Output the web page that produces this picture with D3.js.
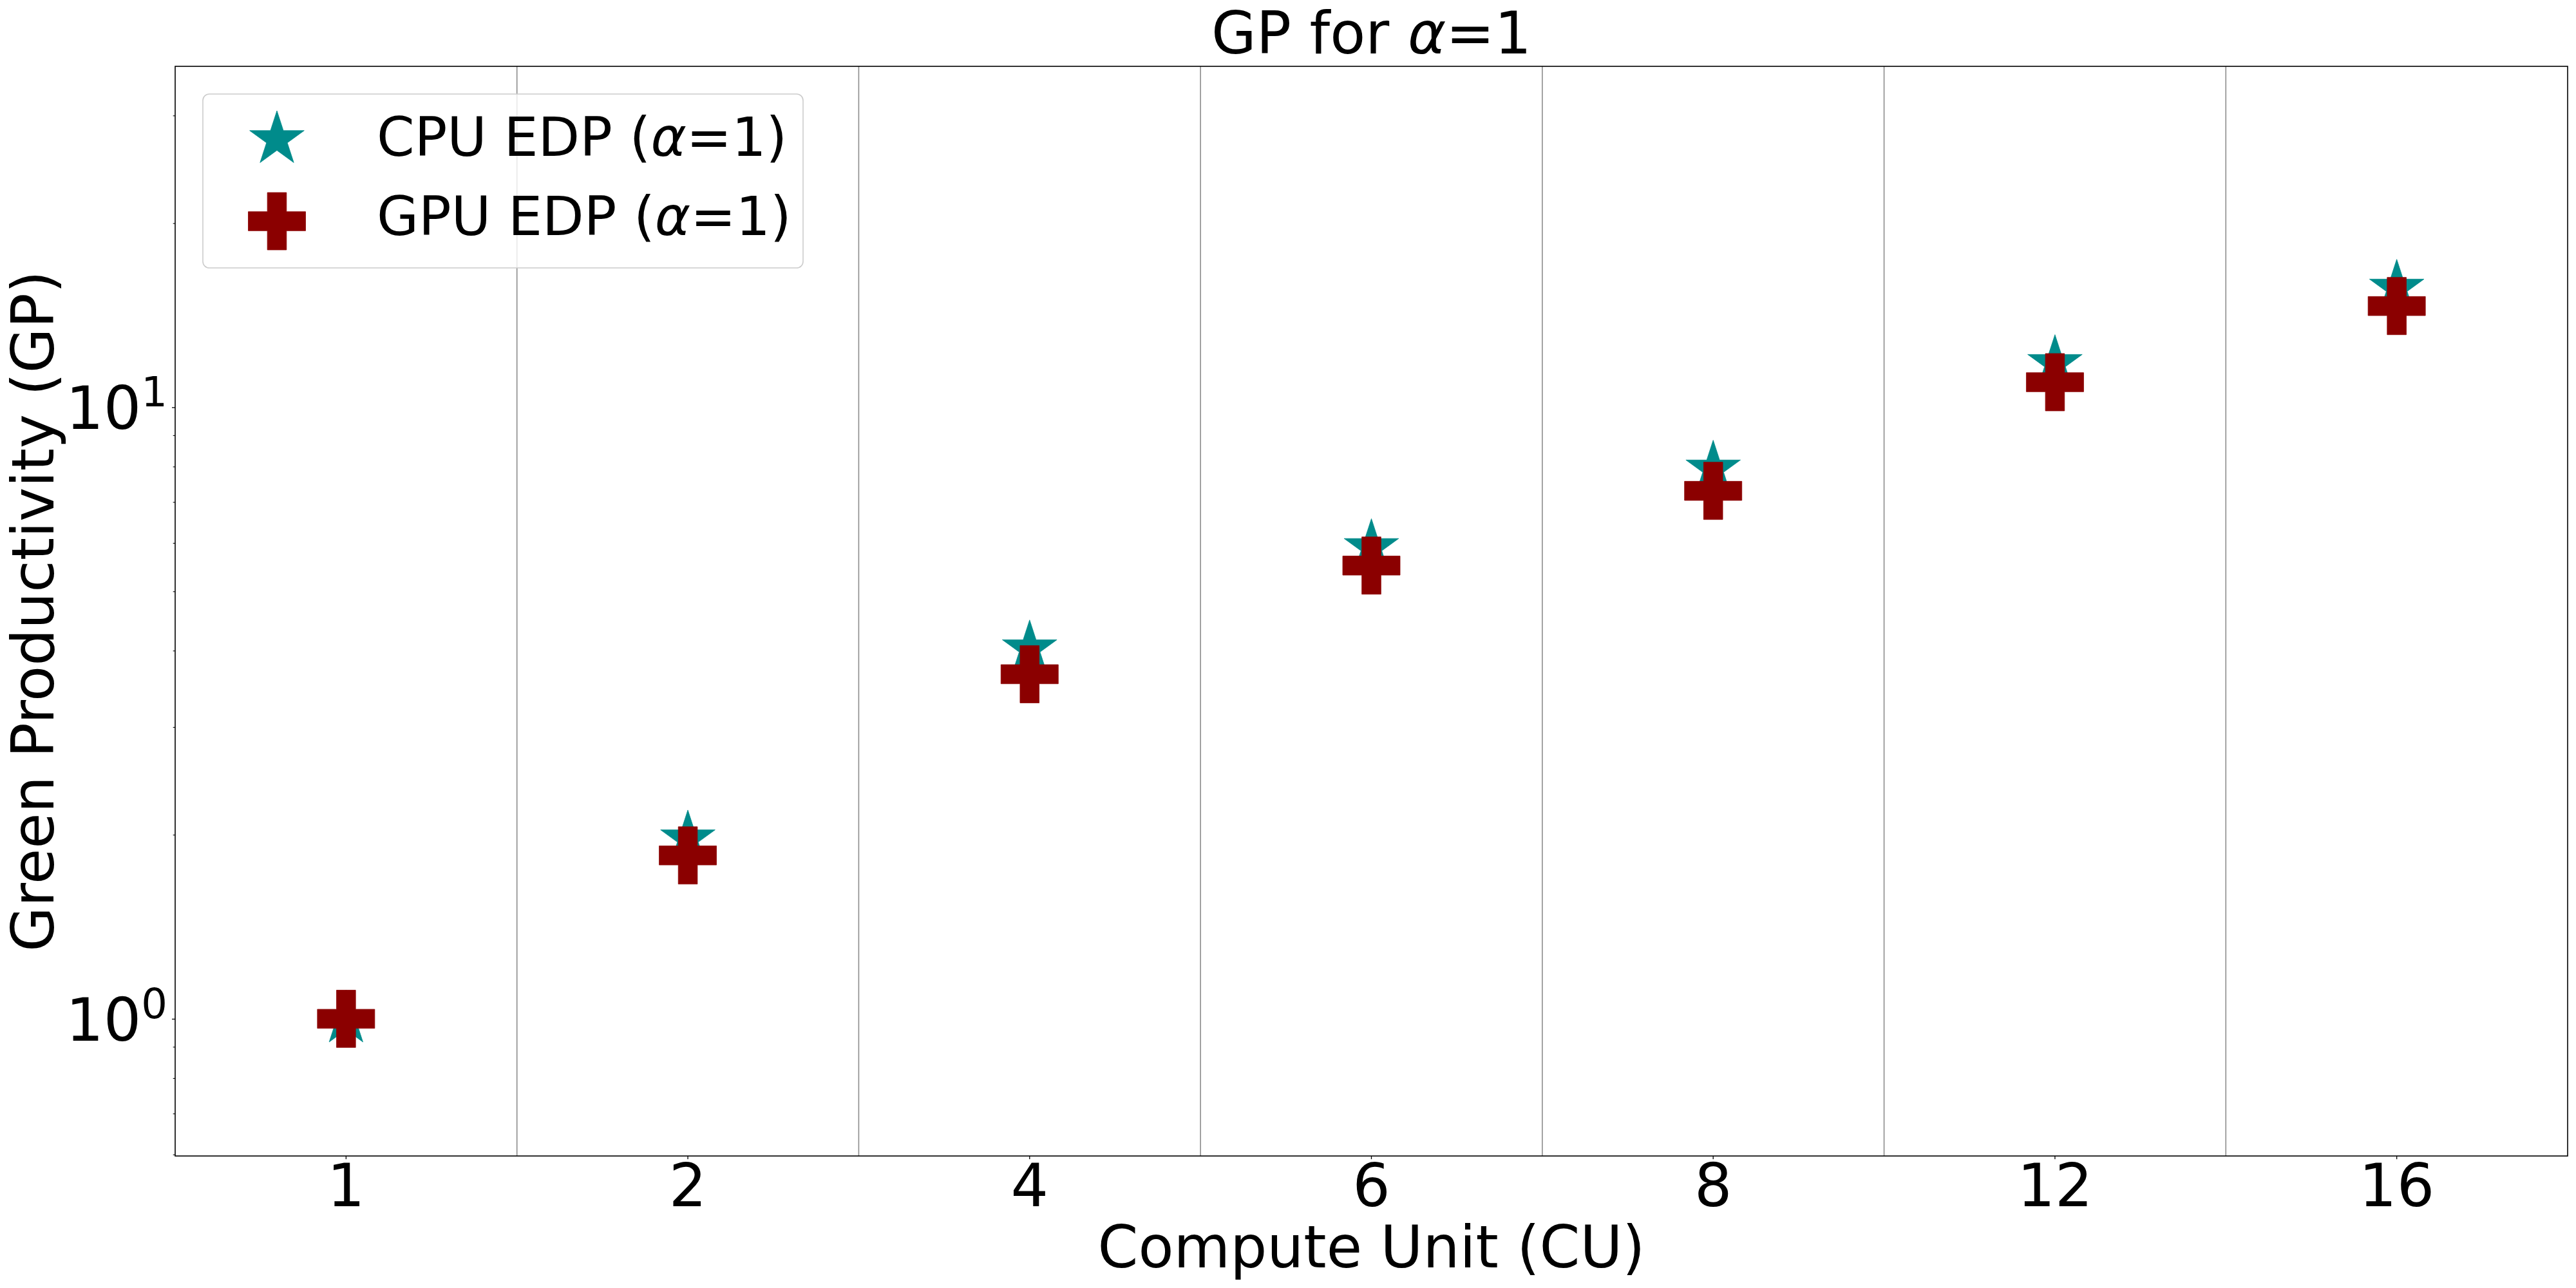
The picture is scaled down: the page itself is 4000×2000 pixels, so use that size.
<!DOCTYPE html>
<html>
<head>
<meta charset="utf-8">
<script src="https://cdn.jsdelivr.net/npm/d3@7"></script>
<style>
  html, body { margin: 0; padding: 0; background: #fff; }
  svg { display: block; }
  text { font-family: "DejaVu Sans", sans-serif; fill: #000; }
</style>
</head>
<body>
<script>
// ---- data ----
const categories = ["1", "2", "4", "6", "8", "12", "16"];
const cpuEDP = [1.0, 1.97, 4.03, 5.90, 7.93, 11.80, 15.67];
const gpuEDP = [1.0, 1.85, 3.66, 5.51, 7.30, 10.99, 14.64];
const seriesNames = ["CPU EDP", "GPU EDP"];
const yMajorTicks = [1, 10];
const yMajorExponents = ["0", "1"];
const yMinorTicks = [0.6, 0.7, 0.8, 0.9, 2, 3, 4, 5, 6, 7, 8, 9, 20, 30];
const yDomain = [0.5966, 36.1];

(function () {
// ---- layout ----
const W = 4000, H = 2000;
const pL = 272, pR = 3987, pT = 103, pB = 1795;
const markerSize = 89;

const svg = d3.select("body").append("svg").attr("width", W).attr("height", H);

const x = d3.scaleBand().domain(categories).range([pL, pR]).paddingInner(0).paddingOuter(0);
const y = d3.scaleLog().domain(yDomain).range([pB, pT]);
const cx = c => x(c) + x.bandwidth() / 2;

function starPath(R) {
  const r = R * 0.381966;
  const pts = [];
  for (let i = 0; i < 10; i++) {
    const a = -Math.PI / 2 + i * Math.PI / 5;
    const rr = i % 2 === 0 ? R : r;
    pts.push([rr * Math.cos(a), rr * Math.sin(a)]);
  }
  return "M" + pts.map(p => p[0].toFixed(2) + "," + p[1].toFixed(2)).join("L") + "Z";
}
function plusPath(s) {
  const h = s / 2, a = s / 6;
  const pts = [[-a,-h],[a,-h],[a,-a],[h,-a],[h,a],[a,a],[a,h],[-a,h],[-a,a],[-h,a],[-h,-a],[-a,-a]];
  return "M" + pts.map(p => p[0].toFixed(2) + "," + p[1].toFixed(2)).join("L") + "Z";
}
const STAR = starPath(markerSize / 2);
const PLUS = plusPath(markerSize);
const cpuColor = "#008b8b", gpuColor = "#8b0000";

// vertical separators between categories
svg.append("g").selectAll("line").data(categories.slice(1)).join("line")
  .attr("x1", d => x(d)).attr("x2", d => x(d))
  .attr("y1", pT).attr("y2", pB)
  .attr("stroke", "#8c8c8c").attr("stroke-width", 1.6);

// axes
const xAxis = d3.axisBottom(x).tickSize(5).tickPadding(0).tickFormat(() => "");
const gx = svg.append("g").attr("transform", `translate(0,${pB})`).call(xAxis);
gx.select(".domain").remove();
gx.selectAll(".tick line").attr("stroke", "#000").attr("stroke-width", 1.3);
gx.selectAll(".tick").append("text")
  .attr("y", 78).attr("text-anchor", "middle")
  .style("font-size", "92px")
  .text(d => d);

const yAxisMajor = d3.axisLeft(y).tickValues(yMajorTicks).tickSize(5).tickFormat(() => "");
const gy = svg.append("g").attr("transform", `translate(${pL},0)`).call(yAxisMajor);
gy.select(".domain").remove();
gy.selectAll(".tick line").attr("stroke", "#000").attr("stroke-width", 1.3);
gy.selectAll(".tick").each(function(d, i) {
  const t = d3.select(this).append("text")
    .attr("x", -12).attr("y", 33.5).attr("text-anchor", "end")
    .style("font-size", "92px");
  t.append("tspan").text("10");
  t.append("tspan").attr("dy", -35).style("font-size", "64px").text(yMajorExponents[i]);
});
const yAxisMinor = d3.axisLeft(y).tickValues(yMinorTicks).tickSize(3.3).tickFormat(() => "");
const gym = svg.append("g").attr("transform", `translate(${pL},0)`).call(yAxisMinor);
gym.select(".domain").remove();
gym.selectAll(".tick line").attr("stroke", "#000").attr("stroke-width", 1.1);

// frame
svg.append("rect").attr("x", pL).attr("y", pT)
  .attr("width", pR - pL).attr("height", pB - pT)
  .attr("fill", "none").attr("stroke", "#000").attr("stroke-width", 1.6);

// markers
svg.append("g").selectAll("path").data(categories).join("path")
  .attr("d", STAR).attr("fill", cpuColor).attr("stroke", cpuColor).attr("stroke-width", 0.8)
  .attr("transform", (d, i) => `translate(${cx(d)},${y(cpuEDP[i])})`);
svg.append("g").selectAll("path").data(categories).join("path")
  .attr("d", PLUS).attr("fill", gpuColor).attr("stroke", gpuColor).attr("stroke-width", 0.8)
  .attr("transform", (d, i) => `translate(${cx(d)},${y(gpuEDP[i])})`);

// title
const title = svg.append("text").attr("x", (pL + pR) / 2).attr("y", 83)
  .attr("text-anchor", "middle").style("font-size", "90px");
title.append("tspan").text("GP for ");
title.append("tspan").style("font-style", "italic").text("α");
title.append("tspan").text("=1");

// axis labels
svg.append("text").attr("x", (pL + pR) / 2).attr("y", 1968)
  .attr("text-anchor", "middle").style("font-size", "90px")
  .text("Compute Unit (CU)");
svg.append("text")
  .attr("transform", `translate(83,${(pT + pB) / 2}) rotate(-90)`)
  .attr("text-anchor", "middle").style("font-size", "90px")
  .text("Green Productivity (GP)");

// legend
const lg = svg.append("g");
lg.append("rect").attr("x", 315).attr("y", 146).attr("width", 932).attr("height", 270)
  .attr("rx", 10).attr("ry", 10)
  .attr("fill", "#fff").attr("fill-opacity", 0.8)
  .attr("stroke", "#cccccc").attr("stroke-width", 1.6);
const legendItems = [
  { name: seriesNames[0], path: STAR, color: cpuColor, my: 216.5, ty: 242 },
  { name: seriesNames[1], path: PLUS, color: gpuColor, my: 343.5, ty: 365 }
];
legendItems.forEach(it => {
  lg.append("path").attr("d", it.path).attr("fill", it.color).attr("stroke", it.color).attr("stroke-width", 0.8)
    .attr("transform", `translate(430,${it.my})`);
  const t = lg.append("text").attr("x", 585).attr("y", it.ty).style("font-size", "84px");
  t.append("tspan").text(it.name + " (");
  t.append("tspan").style("font-style", "italic").text("α");
  t.append("tspan").text("=1)");
});
})();
</script>
</body>
</html>
